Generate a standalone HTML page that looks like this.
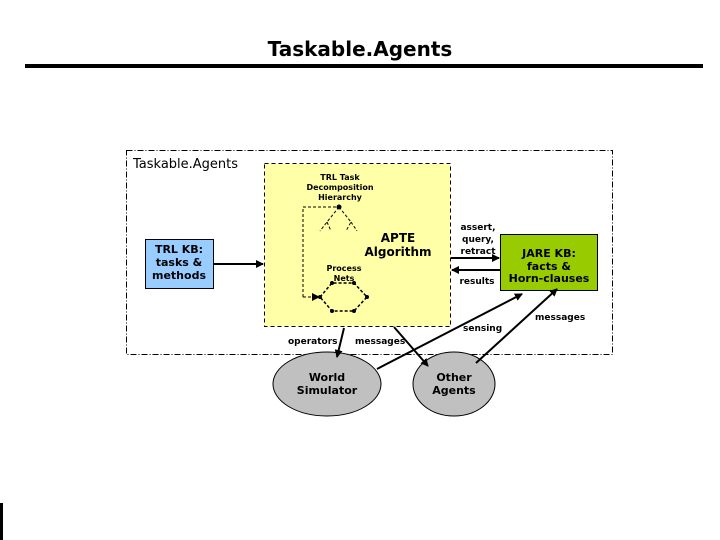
<!DOCTYPE html>
<html><head><meta charset="utf-8"><style>
html,body{margin:0;padding:0;background:#fff;}
svg{display:block;}
text{font-family:"DejaVu Sans","Liberation Sans",sans-serif;}
</style></head><body>
<svg width="720" height="540" viewBox="0 0 720 540" xmlns="http://www.w3.org/2000/svg">
<defs>
<marker id="a" markerWidth="8" markerHeight="8" refX="7" refY="4" orient="auto" markerUnits="userSpaceOnUse"><path d="M0,0 L8,4 L0,8 z" fill="#000"/></marker>
</defs>
<text x="360" y="56" text-anchor="middle" font-size="20" font-weight="bold" fill="#000">Taskable.Agents</text>
<rect x="25" y="64" width="678" height="4" fill="#000"/>
<rect x="0" y="503" width="3" height="37" fill="#000"/>

<rect x="126.5" y="150.5" width="486" height="204" fill="none" stroke="#000" stroke-dasharray="6,2,1,2"/>
<text x="133" y="168" font-size="13" fill="#000">Taskable.Agents</text>

<rect x="264.5" y="163.5" width="186" height="163" fill="#ffffa8" stroke="#000" stroke-dasharray="4,3"/>
<text font-size="8" font-weight="bold" text-anchor="middle" fill="#000"><tspan x="340" y="180">TRL Task</tspan><tspan x="340" y="190">Decomposition</tspan><tspan x="340" y="200">Hierarchy</tspan></text>
<text font-size="12" font-weight="bold" text-anchor="middle" fill="#000"><tspan x="398" y="242">APTE</tspan><tspan x="398" y="256">Algorithm</tspan></text>
<text font-size="8" font-weight="bold" text-anchor="middle" fill="#000"><tspan x="344" y="271">Process</tspan><tspan x="344" y="281">Nets</tspan></text>
<!-- tree -->
<g stroke="#000" fill="none">
<path d="M339,207 L327,222 L320,231 M327,222 L331,231 M339,207 L351,222 L346,231 M351,222 L357,231" stroke-dasharray="3,2"/>
<path d="M303,297 L303,207 L339,207" stroke-dasharray="3,2"/>
<path d="M303,297 L319,297" stroke-dasharray="3,2" marker-end="url(#a)"/>
<path d="M320,297 L332,283 L354,283 L367,297 L354,311 L332,311 Z" stroke-dasharray="3,2" stroke-width="1.5"/>
</g>
<g fill="#000"><circle cx="339" cy="207" r="2.5"/><circle cx="332" cy="283" r="2"/><circle cx="354" cy="283" r="2"/><circle cx="367" cy="297" r="2"/><circle cx="354" cy="311" r="2"/><circle cx="332" cy="311" r="2"/><circle cx="320" cy="297" r="2"/></g>

<rect x="145.5" y="239.5" width="68" height="49" fill="#99ccff" stroke="#000"/>
<text font-size="11" font-weight="bold" text-anchor="middle" fill="#000"><tspan x="179" y="253">TRL KB:</tspan><tspan x="179" y="266">tasks &amp;</tspan><tspan x="179" y="279">methods</tspan></text>
<line x1="214" y1="264" x2="263" y2="264" stroke="#000" stroke-width="2" marker-end="url(#a)"/>

<rect x="500.5" y="234.5" width="97" height="56" fill="#99cc00" stroke="#000"/>
<text font-size="11" font-weight="bold" text-anchor="middle" fill="#000"><tspan x="549" y="257">JARE KB:</tspan><tspan x="549" y="270">facts &amp;</tspan><tspan x="549" y="282">Horn-clauses</tspan></text>
<line x1="451" y1="258" x2="499" y2="258" stroke="#000" stroke-width="2" marker-end="url(#a)"/>
<line x1="500" y1="270" x2="452" y2="270" stroke="#000" stroke-width="2" marker-end="url(#a)"/>
<text font-size="9" font-weight="bold" text-anchor="middle" fill="#000"><tspan x="478" y="230">assert,</tspan><tspan x="478" y="242">query,</tspan><tspan x="478" y="254">retract</tspan></text>
<text x="477" y="284" font-size="9" font-weight="bold" text-anchor="middle" fill="#000">results</text>

<ellipse cx="327" cy="384" rx="54" ry="32" fill="#c0c0c0" stroke="#000"/>
<text font-size="11" font-weight="bold" text-anchor="middle" fill="#000"><tspan x="327" y="381">World</tspan><tspan x="327" y="394">Simulator</tspan></text>
<ellipse cx="454" cy="384" rx="41" ry="32" fill="#c0c0c0" stroke="#000"/>
<text font-size="11" font-weight="bold" text-anchor="middle" fill="#000"><tspan x="454" y="381">Other</tspan><tspan x="454" y="394">Agents</tspan></text>

<g stroke="#000" stroke-width="2">
<line x1="344" y1="328" x2="337" y2="357" marker-end="url(#a)"/>
<line x1="394" y1="327" x2="428" y2="366" marker-end="url(#a)"/>
<line x1="377" y1="369" x2="522" y2="294" marker-end="url(#a)"/>
<line x1="476" y1="363" x2="557" y2="289" marker-end="url(#a)"/>
</g>
<text font-size="9" font-weight="bold" fill="#000">
<tspan x="288" y="344">operators</tspan>
<tspan x="355" y="344">messages</tspan>
<tspan x="463" y="331">sensing</tspan>
<tspan x="535" y="320">messages</tspan>
</text>
</svg>
</body></html>
